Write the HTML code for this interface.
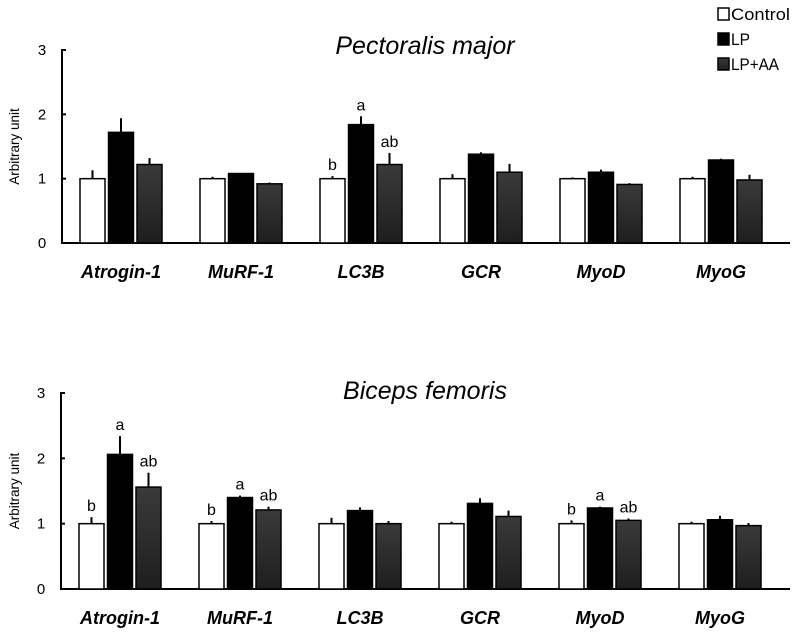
<!DOCTYPE html>
<html><head><meta charset="utf-8"><style>
body{margin:0;background:#fff;width:793px;height:631px;overflow:hidden}
svg{font-family:"Liberation Sans",sans-serif}
</style></head><body>
<svg id="c" width="793" height="631">
<defs><linearGradient id="g" x1="0" y1="0" x2="0" y2="1"><stop offset="0" stop-color="#3a3a3a"/><stop offset="1" stop-color="#1e1e1e"/></linearGradient></defs>
</svg>
<script>
const categories=["Atrogin-1","MuRF-1","LC3B","GCR","MyoD","MyoG"];
const seriesNames=["Control","LP","LP+AA"];
const pmControl=[1,1,1,1,1,1];
const pmLP=[1.72,1.08,1.84,1.38,1.1,1.29];
const pmLPAA=[1.22,0.92,1.22,1.1,0.91,0.98];
const pmErrControl=[0.13,0.03,0.04,0.07,0.02,0.03];
const pmErrLP=[0.22,0.005,0.13,0.03,0.04,0.02];
const pmErrLPAA=[0.1,0.02,0.18,0.13,0.02,0.08];
const pmLetters=[["","",""],["","",""],["b","a","ab"],["","",""],["","",""],["","",""]];
const bfControl=[1,1,1,1,1,1];
const bfLP=[2.06,1.4,1.2,1.31,1.24,1.06];
const bfLPAA=[1.56,1.21,1,1.11,1.05,0.97];
const bfErrControl=[0.1,0.04,0.09,0.03,0.05,0.03];
const bfErrLP=[0.28,0.03,0.05,0.08,0.02,0.06];
const bfErrLPAA=[0.22,0.05,0.04,0.09,0.03,0.04];
const bfLetters=[["b","a","ab"],["b","a","ab"],["","",""],["","",""],["b","a","ab"],["","",""]];
const yTicks=[0,1,2,3];
const NS="http://www.w3.org/2000/svg";
const svg=document.getElementById('c');
function mk(t,a,p){const e=document.createElementNS(NS,t);for(const k in a)e.setAttribute(k,a[k]);(p||svg).appendChild(e);return e;}
const fills=["#fff","#000","url(#g)"];
function panel(name,title,y0,y3,axX,vals,errs,letters,labY,titleY){
  const g=mk('g',{});
  
  
  const y=v=>y0+(y3-y0)*v/3;
  const x=(i,s)=>axX+18+i*120+s*28.5;
  const t=mk('text',{x:425,y:titleY,'font-size':25,'font-style':'italic','text-anchor':'middle'},g);t.textContent=title;
  
  
  const yl=mk('text',{transform:`translate(19,${(y0+y3)/2}) rotate(-90)`,'font-size':13.5,'text-anchor':'middle'},g);yl.textContent="Arbitrary unit";
  
  
  const ax=mk('path',{d:`M${axX+4},${y3}H${axX}V${y0}H790`,stroke:'#000','stroke-width':2,fill:'none'},g);
  
  
  yTicks.forEach(v=>{mk('line',{x1:axX,x2:axX+4,y1:y(v),y2:y(v),stroke:'#000','stroke-width':2},g);
    const tl=mk('text',{x:axX-20,y:y(v)+5,'font-size':15,'text-anchor':'middle'},g);tl.textContent=v;
    
    });
  categories.forEach((c,i)=>{
    vals.forEach((sv,s)=>{
      const v=sv[i],e=errs[s][i],bx=x(i,s);
      const el=mk('line',{x1:bx+12.5,x2:bx+12.5,y1:y(v),y2:y(v+e),stroke:'#000','stroke-width':2},g);
      
      
      const r=mk('rect',{x:bx,y:y(v),width:25,height:y0-y(v),fill:fills[s],stroke:'#000','stroke-width':1.5},g);
      
      
      if(letters[i][s]){const lt=mk('text',{x:bx+12.5,y:y(v+e)-6,'font-size':16,'text-anchor':'middle'},g);lt.textContent=letters[i][s];
        
        }
    });
    const cl=mk('text',{x:x(i,1)+12.5,y:labY,'font-size':18,'font-style':'italic','font-weight':'bold','text-anchor':'middle'},g);cl.textContent=c;
    
    
  });
}
panel('pectoralis-panel','Pectoralis major',243,50,62,[pmControl,pmLP,pmLPAA],[pmErrControl,pmErrLP,pmErrLPAA],pmLetters,278,54);
panel('biceps-panel','Biceps femoris',589,393,61,[bfControl,bfLP,bfLPAA],[bfErrControl,bfErrLP,bfErrLPAA],bfLetters,624,399);
const lg=mk('g',{});


const legW=[59,19,48];
seriesNames.forEach((n,s)=>{
  const r=mk('rect',{x:718,y:8+s*25,width:11,height:12,fill:fills[s],stroke:'#000','stroke-width':1.5},lg);
  
  
  const t=mk('text',{x:731,y:20+s*25,'font-size':17,textLength:legW[s],lengthAdjust:'spacingAndGlyphs'},lg);t.textContent=n;
  
  
});
</script>
</body></html>
